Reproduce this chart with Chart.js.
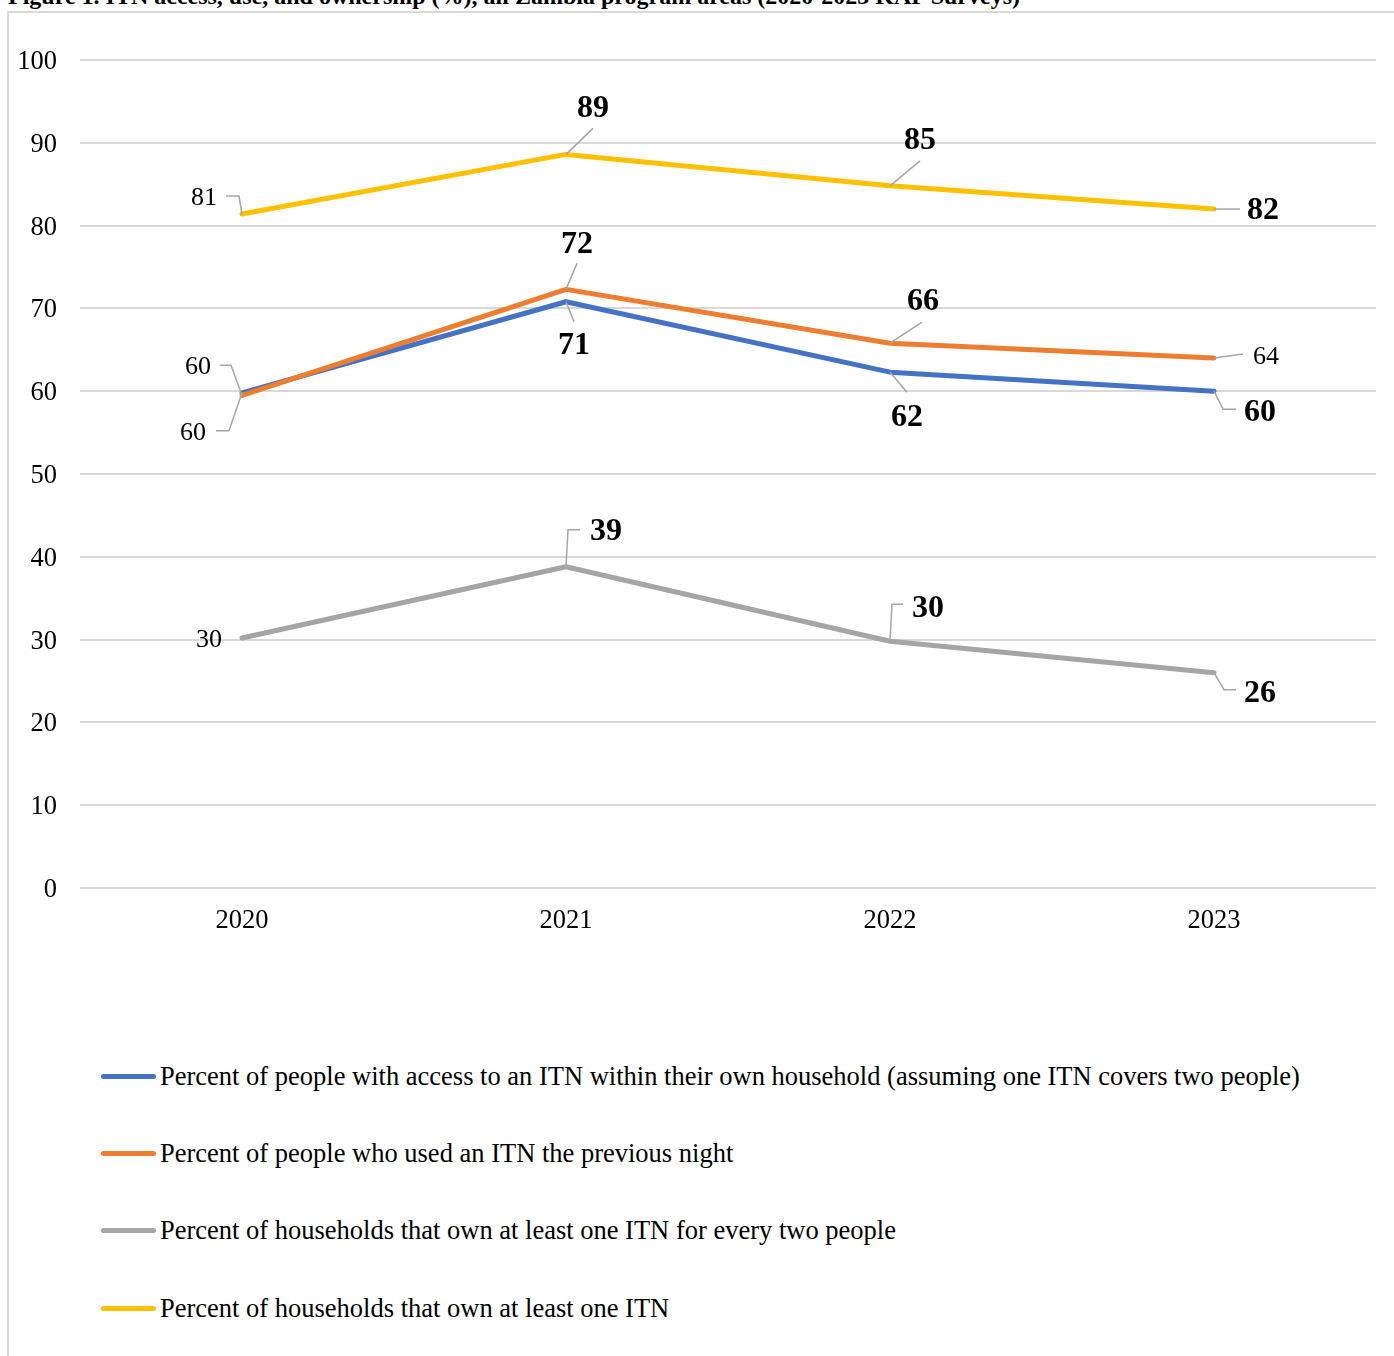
<!DOCTYPE html>
<html>
<head>
<meta charset="utf-8">
<title>ITN access, use, and ownership</title>
<script src="https://cdn.jsdelivr.net/npm/chart.js@4/dist/chart.umd.min.js"></script>
<style>
  html, body { margin: 0; padding: 0; background: #fff; }
  body {
    width: 1394px; height: 1356px; position: relative; overflow: hidden;
    font-family: "Liberation Serif", "Times New Roman", serif; color: #000;
  }
  #title {
    position: absolute; left: 8px; top: -17px;
    font-weight: bold; font-size: 24px; white-space: nowrap;
  }
  #frame {
    position: absolute; left: 7px; top: 11px; width: 1500px; height: 1500px;
    border-left: 2px solid #d9d9d9; border-top: 2px solid #d9d9d9;
  }
  #wrap { position: absolute; left: 0; top: 0; width: 1394px; height: 960px; }
  .leg-row {
    position: absolute; left: 101px; height: 32px;
    display: flex; align-items: center; font-size: 26.5px; white-space: nowrap;
  }
  .leg-line { width: 55px; height: 5px; border-radius: 3px; margin-right: 4px; }
</style>
</head>
<body>
<div id="title">Figure 1. ITN access, use, and ownership (%), all Zambia program areas (2020-2023 KAP Surveys)</div>
<div id="frame"></div>
<div id="wrap"><canvas id="chart" width="1394" height="960"></canvas></div>
<div id="legend"></div>

<script>
// Survey years
const years = ['2020', '2021', '2022', '2023'];

// Series values (%)
const accessPct   = [59.8, 70.8, 62.3, 60.0];   // access within own household
const usedPct     = [59.5, 72.3, 65.8, 64.0];   // used an ITN the previous night
const ownPerTwo   = [30.2, 38.8, 29.8, 26.0];   // own at least one ITN for every two people
const ownAnyPct   = [81.4, 88.6, 84.8, 82.0];   // own at least one ITN

// Y axis tick values
const yTicks = [0, 10, 20, 30, 40, 50, 60, 70, 80, 90, 100];

const seriesNames = [
  'Percent of people with access to an ITN within their own household (assuming one ITN covers two people)',
  'Percent of people who used an ITN the previous night',
  'Percent of households that own at least one ITN for every two people',
  'Percent of households that own at least one ITN'
];

const colors = ['#4472C4', '#ED7D31', '#A5A5A5', '#FFC000'];

// Data label placement per series / point: text offset from the point and
// leader-line vertices (relative to the point).
const labelPlacement = [
  [ // access
    { dx: -49, dy: 39, bold: false, leader: [[-13, 38], [-26, 38]] },
    { dx: 8,   dy: 43, bold: true,  leader: [[8, 20]] },
    { dx: 17,  dy: 45, bold: true,  leader: [[17, 20]] },
    { dx: 46,  dy: 21, bold: true,  leader: [[9, 18], [22, 18]] }
  ],
  [ // used
    { dx: -44, dy: -29, bold: false, leader: [[-11, -30], [-22, -30]] },
    { dx: 11,  dy: -46, bold: true,  leader: [[11, -26]] },
    { dx: 33,  dy: -42, bold: true,  leader: [[32, -21]] },
    { dx: 52,  dy: -2,  bold: false, leader: [[29, -4]] }
  ],
  [ // own per two people
    { dx: -33, dy: 1,   bold: false, leader: null },
    { dx: 40,  dy: -36, bold: true,  leader: [[2, -37], [14, -37]] },
    { dx: 38,  dy: -34, bold: true,  leader: [[2, -37], [13, -37]] },
    { dx: 46,  dy: 20,  bold: true,  leader: [[10, 17], [22, 17]] }
  ],
  [ // own any
    { dx: -38, dy: -17, bold: false, leader: [[-3, -18], [-16, -18]] },
    { dx: 27,  dy: -47, bold: true,  leader: [[27, -26]] },
    { dx: 30,  dy: -46, bold: true,  leader: [[30, -25]] },
    { dx: 49,  dy: 1,   bold: true,  leader: [[26, 0]] }
  ]
];

const serif = '"Liberation Serif", "Times New Roman", serif';

// Draws rounded value labels with thin grey leader lines
const valueLabels = {
  id: 'valueLabels',
  afterDatasetsDraw(chart) {
    const ctx = chart.ctx;
    ctx.save();
    chart.data.datasets.forEach((ds, di) => {
      const meta = chart.getDatasetMeta(di);
      meta.data.forEach((pt, i) => {
        const p = labelPlacement[di][i];
        const x = pt.x, y = pt.y;
        if (p.leader) {
          ctx.beginPath();
          ctx.strokeStyle = '#a6a6a6';
          ctx.lineWidth = 1.5;
          ctx.moveTo(x, y);
          p.leader.forEach(v => ctx.lineTo(x + v[0], y + v[1]));
          ctx.stroke();
        }
        ctx.fillStyle = '#000';
        ctx.textAlign = 'center';
        ctx.textBaseline = 'middle';
        ctx.font = p.bold ? 'bold 32px ' + serif : '26px ' + serif;
        ctx.fillText(Math.round(ds.data[i]).toString(), x + p.dx, y + p.dy + 1);
      });
    });
    ctx.restore();
  }
};

const seriesData = [accessPct, usedPct, ownPerTwo, ownAnyPct];
const drawOrder = [1, 0, 2, 3];

const chart = new Chart(document.getElementById('chart'), {
  type: 'line',
  data: {
    labels: years,
    datasets: seriesData.map((d, i) => ({
      label: seriesNames[i],
      data: d,
      borderColor: colors[i],
      backgroundColor: colors[i],
      borderWidth: 5,
      borderCapStyle: 'round',
      borderJoinStyle: 'round',
      pointRadius: 0,
      tension: 0,
      fill: false,
      order: drawOrder[i]
    }))
  },
  options: {
    responsive: false,
    devicePixelRatio: 1,
    animation: false,
    layout: { padding: { top: 60, right: 18, left: 0, bottom: 0 } },
    plugins: {
      legend: { display: false },
      tooltip: { enabled: false }
    },
    scales: {
      x: {
        offset: true,
        grid: { display: false, drawTicks: false },
        border: { display: false },
        ticks: { color: '#000', font: { family: serif, size: 26.5 }, padding: 17, maxRotation: 0 },
        afterFit(scale) { scale.height = 72; }
      },
      y: {
        min: 0, max: 100,
        afterBuildTicks(scale) { scale.ticks = yTicks.map(v => ({ value: v })); },
        grid: { color: '#d9d9d9', lineWidth: 2, drawTicks: false },
        border: { display: false },
        ticks: { color: '#000', font: { family: serif, size: 26.5 }, padding: 23, labelOffset: 2 },
        afterFit(scale) { scale.width = 80; }
      }
    }
  },
  plugins: [valueLabels]
});

// Legend: one series per row below the plot
const legend = document.getElementById('legend');
chart.data.datasets.forEach((ds, i) => {
  const row = document.createElement('div');
  row.className = 'leg-row';
  row.style.top = (1060 + i * 77.4) + 'px';
  const line = document.createElement('div');
  line.className = 'leg-line';
  line.style.background = ds.borderColor;
  const txt = document.createElement('span');
  txt.textContent = ds.label;
  row.appendChild(line);
  row.appendChild(txt);
  legend.appendChild(row);
});
</script>
</body>
</html>
